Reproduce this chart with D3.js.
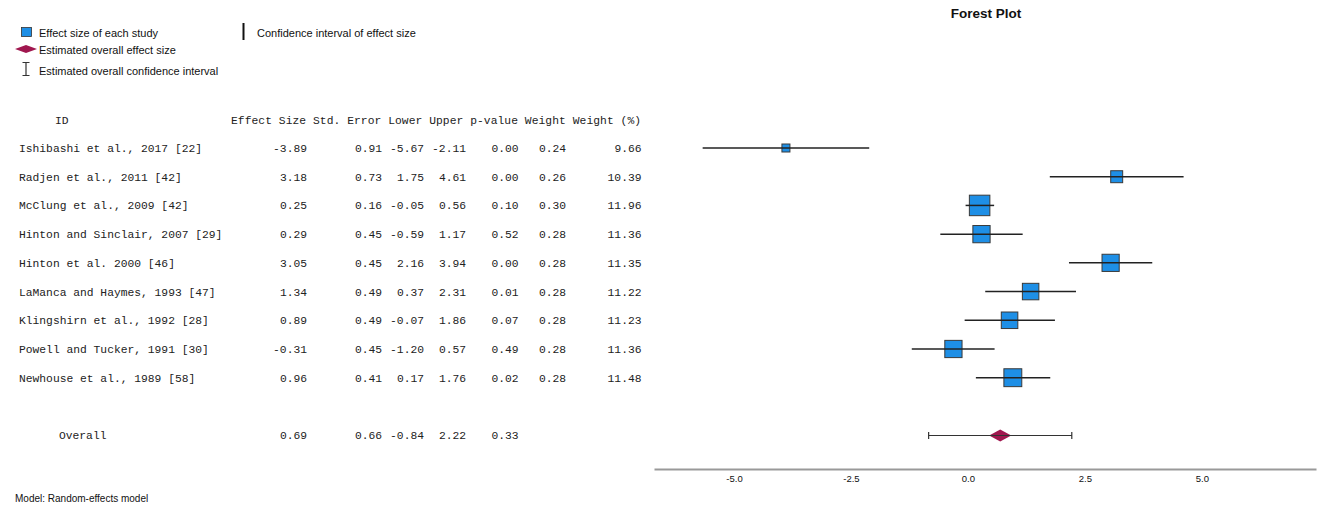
<!DOCTYPE html>
<html>
<head>
<meta charset="utf-8">
<script src="https://cdn.jsdelivr.net/npm/d3@7"></script>
<style>
  html, body { margin: 0; padding: 0; background: #fff; }
  svg { display: block; }
  .mono { font-family: "Liberation Mono", "Courier New", monospace; font-size: 11.3px; fill: #222; }
  .sans { font-family: "Liberation Sans", Arial, sans-serif; fill: #111; }
</style>
</head>
<body>
<svg id="chart" width="1317" height="507"></svg>
<script>
// Study-level results of the random-effects meta-analysis
const studies = [
  "Ishibashi et al., 2017 [22]",
  "Radjen et al., 2011 [42]",
  "McClung et al., 2009 [42]",
  "Hinton and Sinclair, 2007 [29]",
  "Hinton et al. 2000 [46]",
  "LaManca and Haymes, 1993 [47]",
  "Klingshirn et al., 1992 [28]",
  "Powell and Tucker, 1991 [30]",
  "Newhouse et al., 1989 [58]"
];
const effectSize = [-3.89, 3.18, 0.25, 0.29, 3.05, 1.34, 0.89, -0.31, 0.96];
const stdError   = [0.91, 0.73, 0.16, 0.45, 0.45, 0.49, 0.49, 0.45, 0.41];
const lower      = [-5.67, 1.75, -0.05, -0.59, 2.16, 0.37, -0.07, -1.20, 0.17];
const upper      = [-2.11, 4.61, 0.56, 1.17, 3.94, 2.31, 1.86, 0.57, 1.76];
const pValue     = [0.00, 0.00, 0.10, 0.52, 0.00, 0.01, 0.07, 0.49, 0.02];
const weight     = [0.24, 0.26, 0.30, 0.28, 0.28, 0.28, 0.28, 0.28, 0.28];
const weightPct  = [9.66, 10.39, 11.96, 11.36, 11.35, 11.22, 11.23, 11.36, 11.48];

// Pooled estimate
const overall = { label: "Overall", es: 0.69, se: 0.66, lower: -0.84, upper: 2.22, p: 0.33 };

const xTicks = [-5.0, -2.5, 0.0, 2.5, 5.0];
const columnHeaders = ["Effect Size", "Std. Error", "Lower", "Upper", "p-value", "Weight", "Weight (%)"];

const svg = d3.select("#chart");
const fmt = v => v.toFixed(2);

// Plot scales
const x = d3.scaleLinear().domain([-6.71, 7.44]).range([654, 1316]);
const rowKeys = studies.map((d, i) => i);
const y = d3.scalePoint().domain(rowKeys).range([148, 377.7]);
const yOverall = 435.5;
const boxSize = d3.scaleLinear().domain([d3.min(weightPct), d3.max(weightPct)]).range([8, 20.5]);

const BLUE = "#1e8fe6";
const CRIMSON = "#a0174f";

// Title
svg.append("text").attr("class", "sans")
  .attr("x", 986).attr("y", 18).attr("text-anchor", "middle")
  .style("font-size", "13.5px").style("font-weight", "bold")
  .text("Forest Plot");

// Legend
const lg = svg.append("g");
lg.append("rect").attr("x", 21.5).attr("y", 27.5).attr("width", 10).attr("height", 9)
  .attr("fill", BLUE).attr("stroke", "#333").attr("stroke-width", 0.8);
lg.append("text").attr("class", "sans").attr("x", 39).attr("y", 37).style("font-size", "11px")
  .text("Effect size of each study");
lg.append("path").attr("d", "M15,49 L26,45 L37,49 L26,53 Z").attr("fill", CRIMSON);
lg.append("text").attr("class", "sans").attr("x", 39).attr("y", 53.5).style("font-size", "11px")
  .text("Estimated overall effect size");
lg.append("path").attr("d", "M22.5,62.5 H29.5 M26,62.5 V75.5 M22.5,75.5 H29.5")
  .attr("stroke", "#333").attr("stroke-width", 1.2).attr("fill", "none");
lg.append("text").attr("class", "sans").attr("x", 39).attr("y", 74.5).style("font-size", "11px")
  .text("Estimated overall confidence interval");
lg.append("line").attr("x1", 243.5).attr("x2", 243.5).attr("y1", 23).attr("y2", 40)
  .attr("stroke", "#111").attr("stroke-width", 2);
lg.append("text").attr("class", "sans").attr("x", 257).attr("y", 37).style("font-size", "11px")
  .text("Confidence interval of effect size");

// Table
const tbl = svg.append("g");
tbl.append("text").attr("class", "mono").attr("x", 55).attr("y", 120).attr("dy", "0.35em").text("ID");
tbl.append("text").attr("class", "mono").attr("x", 231).attr("y", 120).attr("dy", "0.35em")
  .attr("xml:space", "preserve").style("white-space", "pre")
  .attr("textLength", 410).attr("lengthAdjust", "spacing")
  .text(columnHeaders.join(" "));

const colRight = [307, 382, 424, 466, 518.5, 566, 641.5];
const columns = [effectSize, stdError, lower, upper, pValue, weight, weightPct];

rowKeys.forEach(i => {
  tbl.append("text").attr("class", "mono").attr("x", 19).attr("y", y(i)).attr("dy", "0.35em").text(studies[i]);
  columns.forEach((col, c) => {
    tbl.append("text").attr("class", "mono").attr("x", colRight[c]).attr("y", y(i))
      .attr("dy", "0.35em").attr("text-anchor", "end").text(fmt(col[i]));
  });
});

tbl.append("text").attr("class", "mono").attr("x", 59).attr("y", yOverall).attr("dy", "0.35em").text(overall.label);
[overall.es, overall.se, overall.lower, overall.upper, overall.p].forEach((v, c) => {
  tbl.append("text").attr("class", "mono").attr("x", colRight[c]).attr("y", yOverall)
    .attr("dy", "0.35em").attr("text-anchor", "end").text(fmt(v));
});

// Study boxes, then CI lines over them
const plot = svg.append("g");
plot.selectAll("rect.box").data(rowKeys).join("rect").attr("class", "box")
  .attr("x", i => x(effectSize[i]) - boxSize(weightPct[i]) / 2)
  .attr("y", i => y(i) - boxSize(weightPct[i]) / 2)
  .attr("width", i => boxSize(weightPct[i]))
  .attr("height", i => boxSize(weightPct[i]))
  .attr("fill", BLUE).attr("stroke", "#3a3a3a").attr("stroke-width", 1);

plot.selectAll("line.ci").data(rowKeys).join("line").attr("class", "ci")
  .attr("x1", i => x(lower[i])).attr("x2", i => x(upper[i]))
  .attr("y1", i => y(i)).attr("y2", i => y(i))
  .attr("stroke", "#222").attr("stroke-width", 1.5);

// Overall diamond with its interval drawn across it
const dx = x(overall.es);
plot.append("path")
  .attr("d", `M${dx - 11},${yOverall} L${dx},${yOverall - 6} L${dx + 11},${yOverall} L${dx},${yOverall + 6} Z`)
  .attr("fill", CRIMSON);
plot.append("path")
  .attr("d", `M${x(overall.lower)},${yOverall - 3.5} V${yOverall + 3.5} M${x(overall.lower)},${yOverall} H${x(overall.upper)} M${x(overall.upper)},${yOverall - 3.5} V${yOverall + 3.5}`)
  .attr("stroke", "#333").attr("stroke-width", 1.2).attr("fill", "none");

// Axis
const axis = svg.append("g").attr("transform", "translate(0,469)")
  .call(d3.axisBottom(x).tickValues(xTicks).tickFormat(d => d.toFixed(1)).tickSize(0).tickPadding(6));
axis.select(".domain").attr("stroke", "#999").attr("stroke-width", 1.8);
axis.selectAll("text").style("font-size", "9.5px").attr("fill", "#111")
  .style("font-family", "'Liberation Sans', Arial, sans-serif");

// Footnote
svg.append("text").attr("class", "sans").attr("x", 15).attr("y", 502).style("font-size", "10px")
  .text("Model: Random-effects model");
</script>
</body>
</html>
